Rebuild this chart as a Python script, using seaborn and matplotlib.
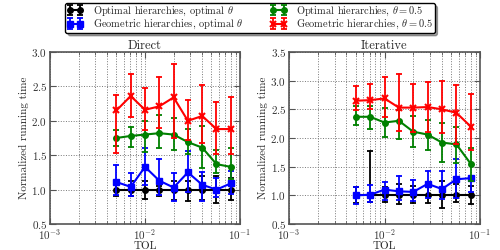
import matplotlib
matplotlib.use('Agg')
import matplotlib.pyplot as plt
from matplotlib.lines import Line2D
import pandas as pd
import seaborn as sns

# TOL values (same for both panels)
tol = [0.005, 0.00707, 0.01, 0.01414, 0.02, 0.02828, 0.04, 0.05657, 0.08]

labels = ['Optimal hierarchies, optimal $\\theta$',
          'Geometric hierarchies, optimal $\\theta$',
          'Optimal hierarchies, $\\theta=0.5$',
          'Geometric hierarchies, $\\theta=0.5$']
colors = ['#000000', '#0000ff', '#008000', '#ff0000']
marks = ['o', 's', 'o', 'x']

# Direct panel: value, lower and upper end of the error bar
direct_opt_opt = [1.0, 1.0, 1.0, 1.0, 1.0, 1.0, 1.0, 1.0, 1.0]
direct_opt_opt_lo = [0.90, 0.90, 0.87, 0.90, 0.85, 0.83, 0.85, 0.80, 0.85]
direct_opt_opt_hi = [1.06, 1.13, 1.13, 1.05, 1.13, 1.12, 1.20, 1.20, 1.17]

direct_geo_opt = [1.11, 1.04, 1.33, 1.13, 1.03, 1.25, 1.07, 1.00, 1.09]
direct_geo_opt_lo = [0.92, 0.91, 1.06, 0.92, 0.84, 0.96, 0.84, 0.89, 0.93]
direct_geo_opt_hi = [1.36, 1.24, 1.60, 1.44, 1.24, 1.56, 1.25, 1.17, 1.27]

direct_opt_half = [1.75, 1.78, 1.80, 1.82, 1.80, 1.69, 1.61, 1.37, 1.33]
direct_opt_half_lo = [1.63, 1.62, 1.54, 1.61, 1.57, 1.52, 1.32, 1.24, 1.15]
direct_opt_half_hi = [1.87, 1.91, 2.00, 2.08, 2.04, 1.88, 1.92, 1.58, 1.60]

direct_geo_half = [2.15, 2.36, 2.16, 2.21, 2.34, 2.00, 2.07, 1.88, 1.88]
direct_geo_half_lo = [1.53, 2.05, 1.86, 1.90, 1.75, 1.72, 1.68, 1.52, 1.52]
direct_geo_half_hi = [2.38, 2.68, 2.48, 2.64, 2.83, 2.30, 2.52, 2.28, 2.34]

# Iterative panel
iter_opt_opt = [1.0, 1.0, 1.0, 1.0, 1.0, 1.0, 1.0, 1.0, 1.0]
iter_opt_opt_lo = [0.87, 0.88, 0.88, 0.85, 0.86, 0.87, 0.78, 0.89, 0.85]
iter_opt_opt_hi = [1.14, 1.77, 1.14, 1.20, 1.17, 1.22, 1.25, 1.20, 1.17]

iter_geo_opt = [1.00, 1.01, 1.10, 1.07, 1.06, 1.20, 1.11, 1.28, 1.30]
iter_geo_opt_lo = [0.85, 0.88, 0.92, 0.91, 0.90, 0.96, 0.93, 0.95, 1.05]
iter_geo_opt_hi = [1.15, 1.18, 1.24, 1.34, 1.27, 1.43, 1.42, 1.64, 1.32]

iter_opt_half = [2.37, 2.37, 2.27, 2.30, 2.11, 2.06, 1.92, 1.89, 1.55]
iter_opt_half_lo = [2.22, 2.15, 2.01, 1.99, 1.84, 1.79, 1.59, 1.56, 1.25]
iter_opt_half_hi = [2.55, 2.55, 2.52, 2.48, 2.38, 2.32, 2.27, 2.20, 1.83]

iter_geo_half = [2.65, 2.66, 2.69, 2.53, 2.53, 2.54, 2.50, 2.44, 2.20]
iter_geo_half_lo = [2.49, 2.50, 2.37, 2.12, 2.10, 2.10, 2.08, 1.89, 1.79]
iter_geo_half_hi = [2.90, 2.95, 3.07, 3.12, 2.95, 2.98, 3.00, 2.92, 2.76]

direct = [(direct_opt_opt, direct_opt_opt_lo, direct_opt_opt_hi),
          (direct_geo_opt, direct_geo_opt_lo, direct_geo_opt_hi),
          (direct_opt_half, direct_opt_half_lo, direct_opt_half_hi),
          (direct_geo_half, direct_geo_half_lo, direct_geo_half_hi)]
iterative = [(iter_opt_opt, iter_opt_opt_lo, iter_opt_opt_hi),
             (iter_geo_opt, iter_geo_opt_lo, iter_geo_opt_hi),
             (iter_opt_half, iter_opt_half_lo, iter_opt_half_hi),
             (iter_geo_half, iter_geo_half_lo, iter_geo_half_hi)]


def make_frame(panel):
    # three rows per point (lo, value, hi): median gives the value, min/max the bar
    rows = []
    for lab, (val, lo, hi) in zip(labels, panel):
        for i, t in enumerate(tol):
            for v in (lo[i], val[i], hi[i]):
                rows.append({'TOL': t, 'time': v, 'series': lab})
    return pd.DataFrame(rows)


sns.set_style('ticks')
plt.rcParams['font.family'] = ['cmr10', 'DejaVu Serif']
plt.rcParams['mathtext.fontset'] = 'cm'
plt.rcParams['axes.formatter.use_mathtext'] = True
plt.rcParams['font.size'] = 8

fig = plt.figure(figsize=(5, 2.5), dpi=100)
ax1 = fig.add_axes([0.10, 0.104, 0.38, 0.688])
ax2 = fig.add_axes([0.578, 0.104, 0.382, 0.688])

for ax, panel, title, top in [(ax1, direct, 'Direct', 3.0), (ax2, iterative, 'Iterative', 3.5)]:
    ax.set_xscale('log')
    df = make_frame(panel)
    sns.lineplot(data=df, x='TOL', y='time', hue='series',
                 hue_order=labels, palette=colors, marker='o',
                 estimator='median', errorbar=lambda v: (v.min(), v.max()),
                 err_style='bars',
                 err_kws={'capsize': 2.5, 'capthick': 1.3, 'elinewidth': 1.3},
                 linewidth=1.5, markersize=4, legend=False, ax=ax)
    # per-series marker shapes (seaborn cannot mix filled and line-art markers)
    for ln in ax.lines:
        if ln.get_linestyle() not in ('None', '', ' '):
            c = matplotlib.colors.to_hex(ln.get_color())
            m = marks[colors.index(c)] if c in colors else 'o'
            ln.set_marker(m)
            ln.set_markeredgecolor(c)
            ln.set_markeredgewidth(1.5 if m == 'x' else 1.0)
    ax.set_xlim(1e-3, 1e-1)
    ax.set_ylim(0.5, top)
    ax.set_title(title, fontsize=9, pad=1)
    ax.set_xlabel('TOL', fontsize=8, labelpad=0)
    ax.set_ylabel('Normalized running time', fontsize=8, labelpad=2)
    ax.grid(True, which='both', axis='x', ls=':', color='#777777', lw=0.7)
    ax.grid(True, which='major', axis='y', ls=':', color='#777777', lw=0.7)
    ax.tick_params(which='both', direction='in', top=True, right=True,
                   labelsize=8, colors='#555555', labelcolor='#333333', pad=2)
    ax.tick_params(which='major', length=4)
    ax.tick_params(which='minor', length=2)
    for sp in ax.spines.values():
        sp.set_color('#555555')
        sp.set_linewidth(1.2)

handles = []
for cont, c, m in zip(ax1.containers, colors, marks):
    handles.append((cont, Line2D([], [], color=c, marker=m, lw=1.5, ms=4, mec=c,
                                 mew=1.5 if m == 'x' else 1.0)))
fig.legend(handles, labels, loc='upper center', bbox_to_anchor=(0.5, 1.0),
           ncol=2, numpoints=2, fancybox=True, shadow=True, fontsize=7.5,
           edgecolor='k', framealpha=1, borderpad=0.15, borderaxespad=0.3,
           labelspacing=0.0, handlelength=1.6, handletextpad=0.9,
           columnspacing=2.6)

fig.savefig('out.png', dpi=100)
